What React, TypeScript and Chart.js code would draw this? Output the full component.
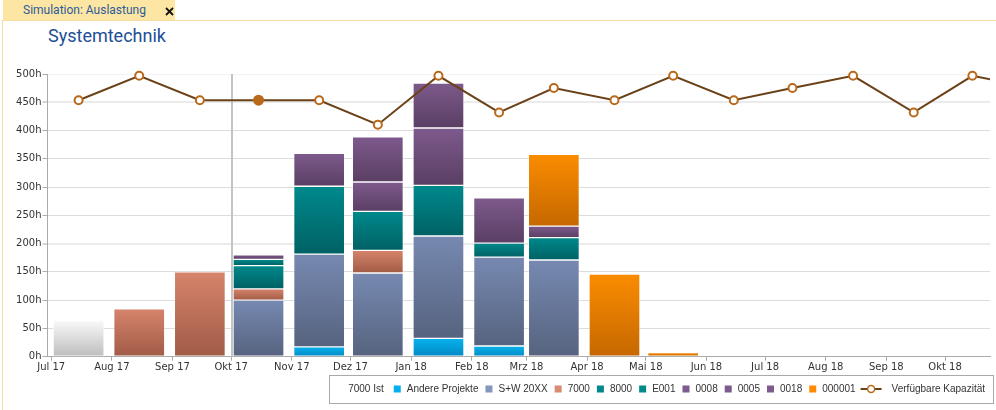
import React, { useEffect, useRef } from "react";
import { Chart, registerables } from "chart.js";

Chart.register(...registerables);

// ---------- data ----------
const monthLabels = [
  "Jul 17", "Aug 17", "Sep 17", "Okt 17", "Nov 17", "Dez 17",
  "Jan 18", "Feb 18", "Mrz 18", "Apr 18", "Mai 18", "Jun 18",
  "Jul 18", "Aug 18", "Sep 18", "Okt 18", "Nov 18",
];

const capacityLabel = "Verfügbare Kapazität";
const capacity = [
  453.6, 496.8, 453.6, 453.6, 453.6, 410.4, 496.8, 432, 475.2,
  453.6, 496.8, 453.6, 475.2, 496.8, 432, 496.8, 475.2,
];
const currentMonthIndex = 3;

// bar months: Jul 17 .. Mai 18
const ist7000 = [64, null, null, null, null, null, null, null, null, null, null];
const andere = [null, null, null, null, 17.5, null, 32.5, 19, null, null, null];
const sw20xx = [null, null, null, 100, 164, 148, 181, 157, 171, null, null];
const p7000 = [null, 84.5, 150, 20, null, 40, null, null, null, null, null];
const p8000 = [null, null, null, 41, 120, 69, 89.5, null, null, null, null];
const e001 = [null, null, null, 11, null, null, null, 25, 39.5, null, null];
const p0008 = [null, null, null, 8, null, null, null, null, null, null, null];
const p0005 = [null, null, null, null, 58, 52, 101.5, null, null, null, null];
const p0018 = [null, null, null, null, null, 80, 79.5, 80, 20.5, null, null];
const p000001 = [null, null, null, null, null, null, null, null, 127, 146, 7.5];

const barLabels = ["7000 Ist", "Andere Projekte", "S+W 20XX", "7000", "8000", "E001", "0008", "0005", "0018", "000001"];
const barValues = [ist7000, andere, sw20xx, p7000, p8000, e001, p0008, p0005, p0018, p000001];

// ---------- styles ----------
const barStyles = [
  { top: "#f9f9f9", bottom: "#bdbdbd", legend: "#ffffff", border: "rgba(255,255,255,0.6)" },
  { top: "#08b2ee", bottom: "#0089c2", legend: "#00b0f0", border: "rgba(255,255,255,0.35)" },
  { top: "#7789b1", bottom: "#56637f", legend: "#8496bc", border: "rgba(255,255,255,0.35)" },
  { top: "#d6846b", bottom: "#a15b46", legend: "#d98a70", border: "rgba(255,255,255,0.35)" },
  { top: "#00898c", bottom: "#006164", legend: "#00878a", border: "rgba(255,255,255,0.35)" },
  { top: "#00898c", bottom: "#006164", legend: "#008a8a", border: "rgba(255,255,255,0.35)" },
  { top: "#7d5a8c", bottom: "#5a3e63", legend: "#7e5b8e", border: "rgba(255,255,255,0.35)" },
  { top: "#7d5a8c", bottom: "#5a3e63", legend: "#7e5b8e", border: "rgba(255,255,255,0.35)" },
  { top: "#7d5a8c", bottom: "#5a3e63", legend: "#7e5b8e", border: "rgba(255,255,255,0.35)" },
  { top: "#fb8c00", bottom: "#c56800", legend: "#ff8c00", border: "rgba(255,255,255,0.35)" },
];
const lineColor = "#6b4218";
const pointColor = "#b8691c";

// ---------- helpers ----------
const DAY = 86400000;
const ORIGIN = Date.UTC(2017, 6, 1);
const monthStart = (i: number) => (Date.UTC(2017, 6 + i, 1) - ORIGIN) / DAY;
const monthMid = (i: number) => (Date.UTC(2017, 6 + i, 15) - ORIGIN) / DAY;
const tickValues = monthLabels.map((_, i) => monthStart(i));

function gradientFor(dsIndex: number) {
  const st = barStyles[dsIndex];
  return (ctx: any) => {
    if (ctx.type !== "data") return st.bottom;
    const chart = ctx.chart;
    const y = chart.scales && chart.scales.y;
    if (!y || !chart.chartArea) return st.bottom;
    const i = ctx.dataIndex;
    const v = barValues[dsIndex][i];
    if (v == null) return st.bottom;
    let base = 0;
    for (let k = 0; k < dsIndex; k++) base += barValues[k][i] ?? 0;
    const y0 = y.getPixelForValue(base + v);
    const y1 = y.getPixelForValue(base);
    if (!isFinite(y0) || !isFinite(y1) || y0 === y1) return st.bottom;
    const g = chart.ctx.createLinearGradient(0, y0, 0, y1);
    g.addColorStop(0, st.top);
    g.addColorStop(1, st.bottom);
    return g;
  };
}

const todayLinePlugin = {
  id: "todayLine",
  beforeDatasetsDraw(chart: any) {
    const { ctx, chartArea, scales } = chart;
    const x = Math.round(scales.x.getPixelForValue(monthStart(currentMonthIndex)) + 0.5);
    ctx.save();
    ctx.strokeStyle = "#c4c4c4";
    ctx.lineWidth = 2;
    ctx.beginPath();
    ctx.moveTo(x, chartArea.top);
    ctx.lineTo(x, chartArea.bottom);
    ctx.stroke();
    ctx.restore();
  },
};

const boxLegendPlugin = {
  id: "boxLegend",
  afterDraw(chart: any) {
    const ctx = chart.ctx;
    ctx.save();
    ctx.font = '10px "Liberation Sans", Arial, sans-serif';
    ctx.textBaseline = "middle";
    const cy = 339;
    const items = [
      ...barLabels.map((l, i) => ({ text: l, color: barStyles[i].legend, line: false })),
      { text: capacityLabel, color: lineColor, line: true },
    ];
    const pos: any[] = [];
    let x = 985;
    for (let i = items.length - 1; i >= 0; i--) {
      const it = items[i];
      const w = ctx.measureText(it.text).width;
      const textX = x - w;
      let markStart, markEnd;
      if (it.line) {
        markEnd = textX - 10;
        markStart = markEnd - 21;
      } else {
        markEnd = textX - 6;
        markStart = markEnd - 7;
      }
      pos[i] = { textX, markStart, markEnd };
      const gapBefore = i === 1 ? 10 : items[i].line ? 5 : 7;
      x = markStart - gapBefore;
    }
    const left = Math.round(pos[0].markStart - 6) + 0.5;
    ctx.strokeStyle = "#a9a9a9";
    ctx.lineWidth = 1;
    ctx.strokeRect(left, 325.5, 993.5 - left, 28);
    items.forEach((it, i) => {
      const p = pos[i];
      if (it.line) {
        ctx.strokeStyle = lineColor;
        ctx.lineWidth = 2;
        ctx.beginPath();
        ctx.moveTo(p.markStart, cy);
        ctx.lineTo(p.markEnd, cy);
        ctx.stroke();
        ctx.beginPath();
        ctx.arc((p.markStart + p.markEnd) / 2, cy, 3.5, 0, Math.PI * 2);
        ctx.fillStyle = "#ffffff";
        ctx.fill();
        ctx.strokeStyle = pointColor;
        ctx.lineWidth = 1.5;
        ctx.stroke();
      } else {
        ctx.fillStyle = it.color;
        ctx.fillRect(p.markStart, cy - 3.5, 7, 7);
      }
      ctx.fillStyle = "#333333";
      ctx.fillText(it.text, p.textX, cy);
    });
    ctx.restore();
  },
};

export default function App() {
  const ref = useRef<HTMLCanvasElement | null>(null);

  useEffect(() => {
    if (!ref.current) return;
    const barDatasets = barLabels.map((label, di) => ({
      type: "bar" as const,
      label,
      data: barValues[di].map((v, i) => ({ x: monthMid(i), y: v })),
      backgroundColor: gradientFor(di),
      borderColor: barStyles[di].border,
      borderWidth: 1,
      borderSkipped: false,
      barThickness: 51,
      stack: "bars",
    }));
    const lineDataset = {
      type: "line" as const,
      label: capacityLabel,
      data: capacity.map((v, i) => ({ x: monthMid(i), y: v })),
      borderColor: lineColor,
      borderWidth: 2,
      tension: 0,
      pointRadius: capacity.map((_, i) => (i === currentMonthIndex ? 5.5 : 4)),
      pointBackgroundColor: capacity.map((_, i) => (i === currentMonthIndex ? pointColor : "#ffffff")),
      pointBorderColor: pointColor,
      pointBorderWidth: capacity.map((_, i) => (i === currentMonthIndex ? 0 : 2)),
      order: -1,
      stack: "cap",
      clip: { left: 6, top: 10, right: 0, bottom: 6 },
    };

    const chart = new Chart(ref.current, {
      type: "bar",
      data: { datasets: [...barDatasets, lineDataset] as any },
      options: {
        animation: false,
        responsive: false,
        maintainAspectRatio: false,
        layout: { padding: { left: 0, top: 24, right: 0, bottom: 37.3 } },
        plugins: {
          legend: { display: false },
          tooltip: { enabled: false },
        },
        scales: {
          x: {
            type: "linear",
            min: -1.9,
            max: 480,
            stacked: true,
            offset: false,
            afterBuildTicks: (s: any) => {
              s.ticks = tickValues.filter((v) => v >= s.min && v <= s.max).map((v) => ({ value: v }));
            },
            afterFit: (s: any) => {
              s.height = 16;
            },
            ticks: {
              autoSkip: false,
              maxRotation: 0,
              padding: 1,
              color: "#333333",
              font: { family: "'DejaVu Sans', sans-serif", size: 10 },
              callback: (v: any) => {
                const idx = tickValues.indexOf(Number(v));
                return idx >= 0 ? monthLabels[idx] : "";
              },
            },
            grid: { drawOnChartArea: false, offset: false, tickLength: 4, color: "#aaaaaa" },
            border: { color: "#aaaaaa" },
          },
          y: {
            min: 0,
            max: 500,
            stacked: true,
            afterFit: (s: any) => {
              s.width = 47.5;
            },
            ticks: {
              stepSize: 50,
              padding: 1,
              color: "#333333",
              font: { family: "'DejaVu Sans', sans-serif", size: 10 },
              callback: (v: any) => v + "h",
            },
            grid: {
              tickLength: 5,
              tickColor: "#aaaaaa",
              tickWidth: 1,
              color: (c: any) => {
                const v = c.tick && c.tick.value;
                if (v === 500) return "#f2f2f2";
                if (v === 450 || v === 200) return "#ebebeb";
                return "#dcdcdc";
              },
              lineWidth: (c: any) => {
                const v = c.tick && c.tick.value;
                return v === 450 || v === 200 ? 2 : 1;
              },
            },
            border: { color: "#aaaaaa" },
          },
        },
      } as any,
      plugins: [todayLinePlugin, boxLegendPlugin],
    });
    return () => chart.destroy();
  }, []);

  return (
    <div style={{ position: "fixed", left: 0, top: 0, width: 996, height: 410, background: "#ffffff", overflow: "hidden" }}>
      <div style={{ position: "absolute", left: 3, top: 0, width: 172, height: 20, background: "#fde6a4" }}>
        <span
          style={{
            position: "absolute",
            left: 20,
            top: 3,
            fontFamily: "Roboto, sans-serif",
            fontSize: 12,
            lineHeight: "14px",
            color: "#2b5c99",
            whiteSpace: "nowrap",
          }}
        >
          Simulation: Auslastung
        </span>
        <svg style={{ position: "absolute", left: 162, top: 7 }} width={9} height={9}>
          <line x1={1} y1={1} x2={8} y2={8} stroke="#111" strokeWidth={1.8} />
          <line x1={8} y1={1} x2={1} y2={8} stroke="#111" strokeWidth={1.8} />
        </svg>
      </div>
      <div style={{ position: "absolute", left: 3, top: 20, width: 993, height: 1, background: "#f7dfa0" }} />
      <div style={{ position: "absolute", left: 2, top: 20, width: 1, height: 390, background: "#f7dfa0" }} />
      <div
        style={{
          position: "absolute",
          left: 48,
          top: 25,
          fontFamily: "Roboto, sans-serif",
          fontSize: 18,
          lineHeight: "21px",
          color: "#1d4f96",
          whiteSpace: "nowrap",
        }}
      >
        Systemtechnik
      </div>
      <canvas ref={ref} width={996} height={360} style={{ position: "absolute", left: 0, top: 50, width: 996, height: 360 }} />
    </div>
  );
}
